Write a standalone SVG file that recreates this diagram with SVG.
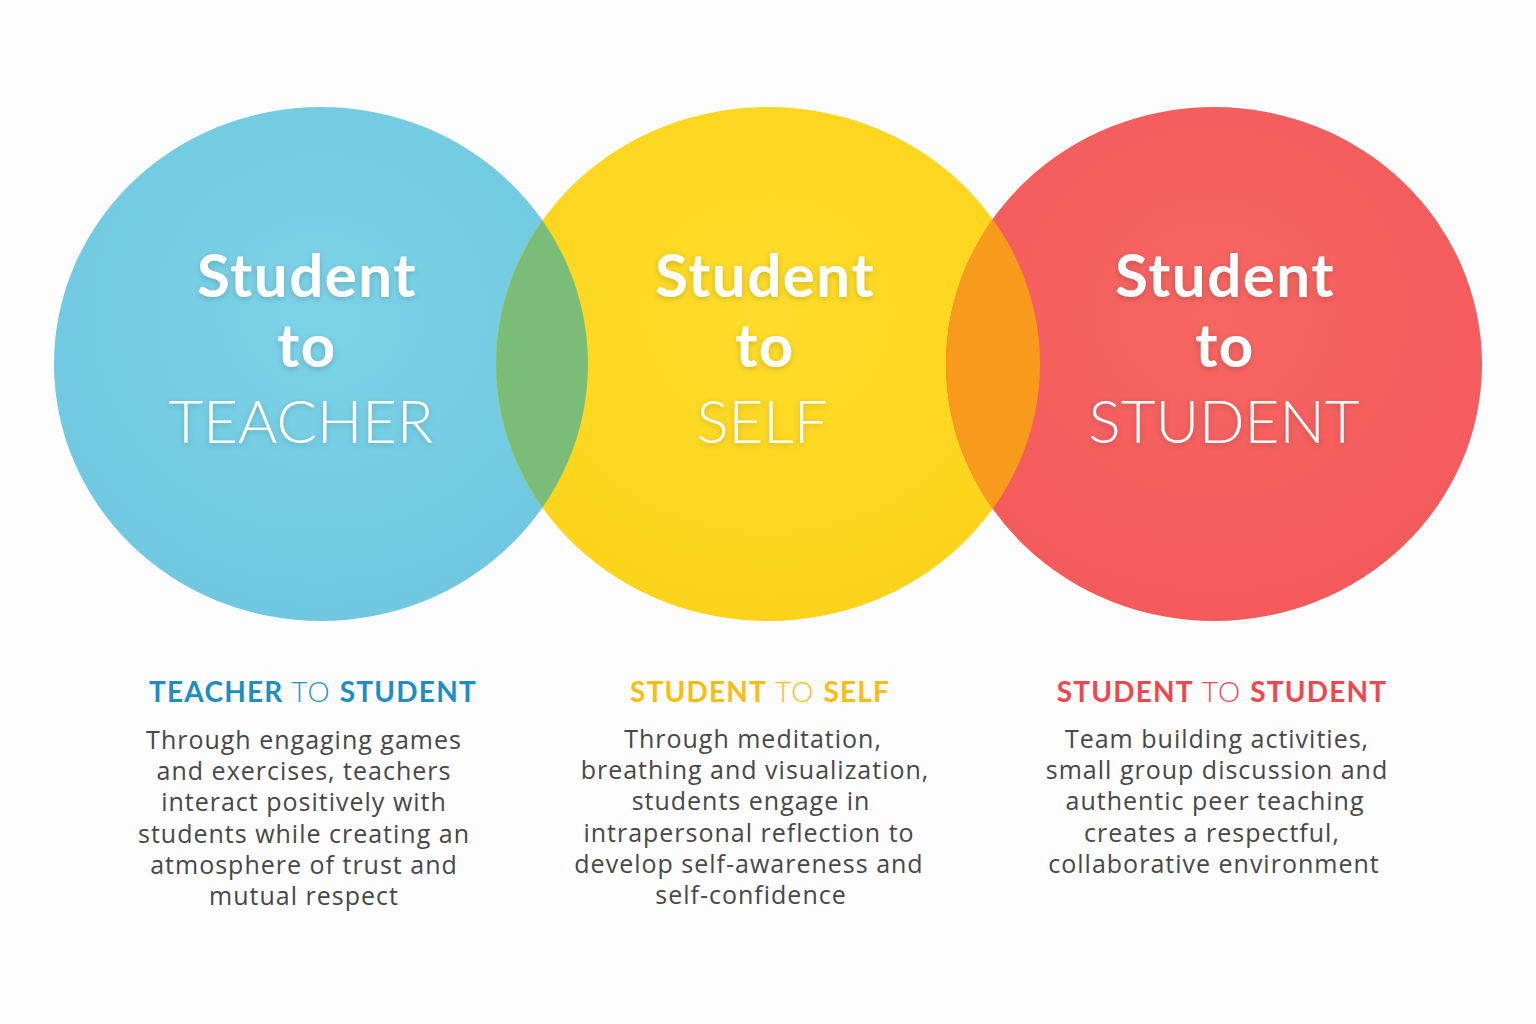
<svg xmlns="http://www.w3.org/2000/svg" width="1536" height="1024" viewBox="0 0 1536 1024">
<defs>
<style>
.big{font-family:Lato,"Liberation Sans",sans-serif;font-weight:700;font-size:60px;letter-spacing:1.5px;fill:#fff;text-anchor:middle}
.thin{font-family:Lato,"Liberation Sans",sans-serif;font-weight:300;font-size:60px;fill:#fff;text-anchor:middle}
.head{font-family:Lato,"Liberation Sans",sans-serif;font-size:28px;letter-spacing:1.2px;text-anchor:middle}
.head .b{font-weight:700}
.head .l{font-weight:300}
.body{font-family:"Open Sans","Liberation Sans",sans-serif;font-weight:400;font-size:25px;letter-spacing:1px;fill:#474747;text-anchor:middle}
</style>
<filter id="sh" x="-20%" y="-20%" width="140%" height="140%">
<feDropShadow dx="0" dy="2" stdDeviation="3" flood-color="#000" flood-opacity="0.18"/>
</filter>
<clipPath id="cl"><ellipse cx="321" cy="364" rx="267" ry="257"/></clipPath>
<clipPath id="cr"><ellipse cx="1214" cy="364" rx="268" ry="257"/></clipPath>
<radialGradient id="gb" cx="0.5" cy="0.4" r="0.6"><stop offset="0" stop-color="#7DD3E8"/><stop offset="1" stop-color="#6FC8E0"/></radialGradient>
<radialGradient id="gy" cx="0.5" cy="0.4" r="0.6"><stop offset="0" stop-color="#FEDD2A"/><stop offset="1" stop-color="#FCD31A"/></radialGradient>
<radialGradient id="gr" cx="0.5" cy="0.4" r="0.6"><stop offset="0" stop-color="#F76661"/><stop offset="1" stop-color="#F45A5C"/></radialGradient>
</defs>
<rect width="1536" height="1024" fill="#FDFDFD"/>
<g id="circle-teacher">
<ellipse cx="321" cy="364" rx="267" ry="257" fill="url(#gb)"/>
</g>
<g id="circle-self">
<ellipse cx="768" cy="364" rx="272" ry="257" fill="url(#gy)"/>
</g>
<g id="circle-student">
<ellipse cx="1214" cy="364" rx="268" ry="257" fill="url(#gr)"/>
</g>
<g id="overlaps">
<ellipse cx="768" cy="364" rx="272" ry="257" fill="#7ABD79" clip-path="url(#cl)"/>
<ellipse cx="768" cy="364" rx="272" ry="257" fill="#F89B1C" clip-path="url(#cr)"/>
</g>
<g id="label-teacher" filter="url(#sh)">
<text class="big" x="307" y="297">Student</text>
<text class="big" x="307" y="367">to</text>
<text class="thin" x="301" y="443">TEACHER</text>
</g>
<g id="label-self" filter="url(#sh)">
<text class="big" x="765" y="297">Student</text>
<text class="big" x="765" y="367">to</text>
<text class="thin" x="762" y="443">SELF</text>
</g>
<g id="label-student" filter="url(#sh)">
<text class="big" x="1225" y="297">Student</text>
<text class="big" x="1225" y="367">to</text>
<text class="thin" x="1224" y="443">STUDENT</text>
</g>
<g id="desc-teacher">
<text class="head" x="313" y="702" fill="#1F8DBF"><tspan class="b">TEACHER</tspan><tspan class="l"> TO </tspan><tspan class="b">STUDENT</tspan></text>
<text class="body" x="304" y="749">Through engaging games</text>
<text class="body" x="304" y="780">and exercises, teachers</text>
<text class="body" x="304" y="811">interact positively with</text>
<text class="body" x="304" y="843">students while creating an</text>
<text class="body" x="304" y="874">atmosphere of trust and</text>
<text class="body" x="304" y="905">mutual respect</text>
</g>
<g id="desc-self">
<text class="head" x="760" y="702" fill="#F8BC12"><tspan class="b">STUDENT</tspan><tspan class="l"> TO </tspan><tspan class="b">SELF</tspan></text>
<text class="body" x="753" y="748">Through meditation,</text>
<text class="body" x="755" y="779">breathing and visualization,</text>
<text class="body" x="751" y="810">students engage in</text>
<text class="body" x="749" y="842">intrapersonal reflection to</text>
<text class="body" x="749" y="873">develop self-awareness and</text>
<text class="body" x="751" y="904">self-confidence</text>
</g>
<g id="desc-student">
<text class="head" x="1222" y="702" fill="#F0474F"><tspan class="b">STUDENT</tspan><tspan class="l"> TO </tspan><tspan class="b">STUDENT</tspan></text>
<text class="body" x="1217" y="748">Team building activities,</text>
<text class="body" x="1217" y="779">small group discussion and</text>
<text class="body" x="1215" y="810">authentic peer teaching</text>
<text class="body" x="1212" y="842">creates a respectful,</text>
<text class="body" x="1214" y="873">collaborative environment</text>
</g>
</svg>
